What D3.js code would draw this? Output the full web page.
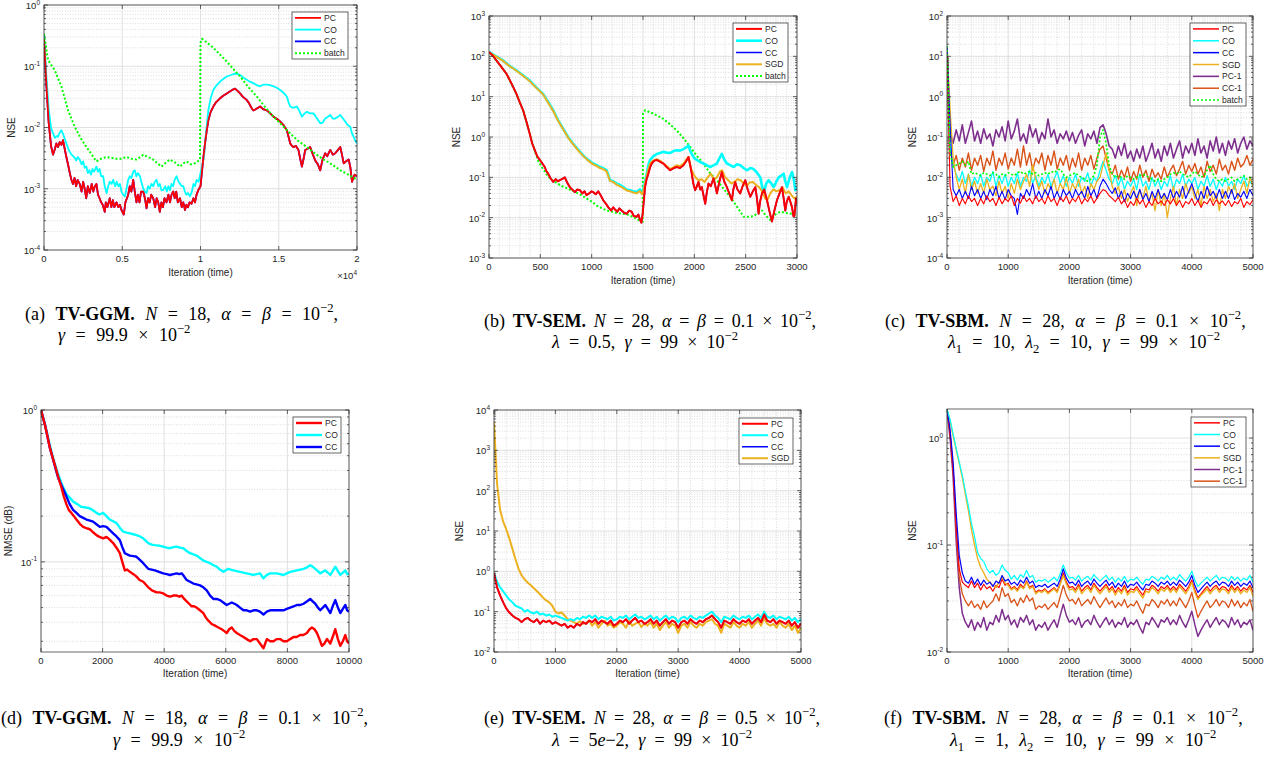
<!DOCTYPE html>
<meta charset="utf-8">
<style>
  body { margin: 0; background: #fff; }
  svg text { font-family: "Liberation Sans", Arial, sans-serif; fill: #262626; }
  svg text.cap { font-family: "Liberation Serif", "Times New Roman", serif; fill: #000; }
</style>
<body></body>
<script src="https://d3js.org/d3.v7.min.js"></script>
<script>

// ---------- (a) TV-GGM, iterations 0..20000, [iteration, NSE]
const ggmA_pc = [[0,0.29],[150,0.05],[300,0.012],[450,0.005],[576,0.0036],[700,0.0045],[790,0.0055],[900,0.0048],[1000,0.0058],[1110,0.0052],[1216,0.0062],[1320,0.0045],[1430,0.0033],[1550,0.0024],[1650,0.0018],[1750,0.0014],[1850,0.0012],[1950,0.0015],[2050,0.0011],[2150,0.0014],[2280,0.0012],[2400,0.0009],[2500,0.0013],[2600,0.001],[2700,0.0007],[2800,0.0011],[2920,0.00085],[3050,0.0012],[3150,0.0009],[3250,0.0011],[3350,0.0012],[3450,0.0008],[3550,0.0007],[3650,0.0006],[3750,0.00055],[3880,0.00042],[3950,0.0006],[4050,0.0005],[4200,0.0007],[4300,0.0005],[4400,0.00065],[4500,0.0005],[4630,0.0006],[4750,0.0005],[4850,0.00055],[4950,0.00045],[5100,0.00038],[5200,0.0006],[5300,0.0007],[5380,0.0008],[5480,0.0011],[5580,0.0009],[5700,0.0014],[5800,0.0009],[5910,0.0006],[6000,0.0008],[6100,0.0006],[6200,0.0009],[6340,0.0009],[6450,0.0007],[6550,0.00048],[6650,0.0007],[6750,0.0006],[6850,0.0008],[6980,0.0007],[7100,0.0005],[7200,0.0007],[7300,0.0006],[7400,0.00042],[7500,0.0006],[7600,0.0005],[7700,0.0007],[7830,0.0006],[7950,0.0008],[8050,0.0006],[8150,0.0008],[8260,0.0009],[8350,0.0007],[8450,0.0009],[8550,0.0006],[8690,0.0007],[8800,0.0005],[8900,0.0006],[9010,0.00045],[9100,0.00055],[9200,0.0005],[9300,0.0006],[9430,0.00057],[9550,0.0007],[9650,0.0006],[9750,0.0008],[9860,0.00095],[10000,0.0011],[10100,0.002],[10200,0.0035],[10290,0.0055],[10400,0.009],[10500,0.013],[10650,0.018],[10820,0.022],[11000,0.026],[11250,0.03],[11450,0.033],[11680,0.036],[11900,0.039],[12100,0.042],[12210,0.043],[12350,0.04],[12530,0.036],[12700,0.032],[12960,0.028],[13100,0.025],[13250,0.021],[13380,0.019],[13550,0.02],[13810,0.022],[14000,0.02],[14240,0.019],[14450,0.017],[14660,0.015],[14850,0.014],[15090,0.0125],[15300,0.011],[15520,0.009],[15630,0.007],[15730,0.0055],[15850,0.005],[15940,0.0048],[16100,0.005],[16260,0.0043],[16380,0.003],[16480,0.0023],[16600,0.0032],[16690,0.0043],[16850,0.0045],[17010,0.0048],[17150,0.0038],[17330,0.0029],[17500,0.0025],[17650,0.002],[17800,0.003],[17970,0.0038],[18100,0.0034],[18290,0.0043],[18450,0.0036],[18610,0.0038],[18750,0.0042],[18930,0.0048],[19050,0.0035],[19150,0.0026],[19300,0.0028],[19470,0.003],[19580,0.0022],[19680,0.0013],[19850,0.0017],[20000,0.0016]];
const ggmA_co = [[0,0.34],[150,0.07],[300,0.02],[450,0.01],[576,0.008],[700,0.0068],[800,0.0072],[900,0.0071],[1000,0.0082],[1110,0.009],[1220,0.0078],[1330,0.0065],[1430,0.0055],[1550,0.0045],[1650,0.004],[1760,0.0036],[1860,0.0034],[1960,0.0032],[2060,0.0029],[2160,0.0033],[2280,0.003],[2400,0.0025],[2500,0.0028],[2600,0.0022],[2710,0.0023],[2800,0.0018],[2900,0.002],[3000,0.0017],[3100,0.0021],[3200,0.0019],[3350,0.0023],[3450,0.0019],[3550,0.0021],[3650,0.0016],[3780,0.0016],[3880,0.0011],[4000,0.00085],[4100,0.0011],[4200,0.0013],[4320,0.0012],[4420,0.0014],[4550,0.0011],[4650,0.0013],[4750,0.0011],[4850,0.0012],[4950,0.0009],[5050,0.0008],[5170,0.00075],[5270,0.001],[5380,0.0014],[5480,0.0016],[5580,0.0015],[5700,0.0019],[5800,0.002],[5900,0.0016],[6000,0.0018],[6130,0.0016],[6250,0.0012],[6350,0.001],[6450,0.0009],[6550,0.00085],[6650,0.0011],[6750,0.001],[6870,0.0012],[6980,0.0011],[7080,0.0013],[7190,0.0014],[7300,0.0011],[7400,0.0012],[7500,0.00095],[7620,0.00095],[7750,0.0011],[7850,0.0009],[7950,0.0011],[8050,0.00095],[8150,0.0012],[8250,0.0011],[8350,0.0014],[8470,0.0016],[8600,0.0013],[8700,0.0012],[8800,0.0011],[8900,0.0011],[9000,0.0009],[9100,0.0008],[9200,0.00085],[9330,0.00075],[9450,0.0009],[9550,0.0012],[9650,0.0011],[9750,0.0014],[9880,0.0013],[10000,0.0018],[10120,0.0025],[10230,0.0034],[10350,0.008],[10500,0.019],[10650,0.03],[10820,0.041],[11000,0.048],[11250,0.056],[11450,0.062],[11680,0.068],[11950,0.072],[12210,0.076],[12350,0.075],[12530,0.072],[12750,0.065],[12960,0.06],[13150,0.056],[13380,0.053],[13600,0.049],[13810,0.047],[14000,0.05],[14240,0.05],[14450,0.049],[14660,0.047],[14850,0.045],[15090,0.041],[15300,0.037],[15520,0.032],[15620,0.026],[15730,0.022],[15900,0.021],[16160,0.022],[16300,0.019],[16480,0.015],[16650,0.017],[16800,0.018],[17000,0.017],[17220,0.017],[17450,0.014],[17650,0.0117],[17800,0.012],[17970,0.014],[18150,0.015],[18290,0.016],[18450,0.014],[18610,0.014],[18780,0.015],[18930,0.016],[19100,0.014],[19250,0.0125],[19400,0.011],[19570,0.0103],[19680,0.008],[19790,0.007],[19900,0.006],[20000,0.0055]];
const ggmA_cc = ggmA_pc; // CC lies under PC in this panel
const ggmA_batch = [[0,0.34],[256,0.126],[680,0.087],[1110,0.047],[1540,0.019],[1960,0.0103],[2330,0.0068],[2710,0.0048],[3050,0.0036],[3350,0.0028],[3650,0.0031],[4000,0.0033],[4300,0.0032],[4630,0.0031],[4950,0.0031],[5270,0.0033],[5600,0.0031],[5910,0.003],[6150,0.0033],[6340,0.0036],[6650,0.0033],[6980,0.003],[7250,0.0026],[7510,0.0023],[7800,0.0027],[8050,0.003],[8350,0.0027],[8690,0.0023],[8900,0.0026],[9110,0.0028],[9400,0.0025],[9650,0.0026],[9970,0.003],[10000,0.24],[10100,0.28],[10450,0.24],[10820,0.2],[11250,0.155],[11680,0.119],[12100,0.09],[12530,0.068],[13050,0.046],[13600,0.032],[14100,0.022],[14660,0.015],[15200,0.011],[15730,0.008],[16250,0.006],[16800,0.0048],[17350,0.0037],[17870,0.003],[18400,0.0025],[18930,0.002],[19450,0.0017],[20000,0.0014]];

// ---------- (b) TV-SEM, iterations 0..3000
const semB_pc = [[0,128],[36,105],[72,79],[120,55],[170,37],[220,21],[267,11.7],[300,7.2],[332,4.6],[365,2.4],[397,1.2],[420,0.7],[446,0.47],[470,0.33],[495,0.27],[520,0.22],[543,0.18],[560,0.14],[576,0.123],[600,0.095],[625,0.077],[650,0.09],[670,0.08],[690,0.085],[710,0.09],[739,0.1],[760,0.075],[788,0.057],[810,0.05],[836,0.043],[860,0.05],[885,0.048],[910,0.04],[930,0.045],[950,0.036],[975,0.04],[1000,0.045],[1015,0.043],[1040,0.038],[1064,0.045],[1090,0.035],[1113,0.027],[1140,0.022],[1162,0.018],[1190,0.015],[1210,0.018],[1227,0.016],[1250,0.014],[1270,0.017],[1292,0.015],[1320,0.013],[1341,0.0125],[1365,0.015],[1390,0.014],[1410,0.011],[1438,0.0105],[1455,0.012],[1471,0.0088],[1485,0.0075],[1497,0.0125],[1510,0.03],[1520,0.057],[1535,0.09],[1552,0.123],[1570,0.18],[1585,0.22],[1610,0.26],[1634,0.27],[1660,0.25],[1699,0.22],[1730,0.18],[1764,0.15],[1800,0.17],[1829,0.18],[1860,0.17],[1894,0.2],[1920,0.25],[1943,0.32],[1960,0.2],[1975,0.123],[1990,0.07],[2008,0.048],[2025,0.06],[2040,0.077],[2057,0.05],[2073,0.057],[2090,0.035],[2106,0.022],[2120,0.04],[2138,0.07],[2160,0.06],[2187,0.095],[2205,0.06],[2220,0.04],[2245,0.08],[2268,0.135],[2290,0.08],[2317,0.057],[2340,0.04],[2366,0.027],[2380,0.05],[2398,0.077],[2420,0.05],[2447,0.04],[2470,0.06],[2496,0.085],[2520,0.05],[2545,0.033],[2570,0.045],[2594,0.057],[2610,0.03],[2626,0.0125],[2640,0.025],[2659,0.04],[2680,0.05],[2708,0.027],[2730,0.015],[2756,0.008],[2780,0.015],[2805,0.027],[2830,0.04],[2854,0.057],[2870,0.03],[2886,0.015],[2900,0.025],[2919,0.033],[2935,0.025],[2952,0.018],[2965,0.011],[2975,0.011],[2990,0.03],[3000,0.022]];
const semB_co = [[0,130],[70,100],[137,79],[200,58],[267,45],[330,34],[397,25],[460,17],[527,11.7],[575,7.5],[625,4.6],[670,2.7],[722,1.6],[770,1.0],[820,0.68],[870,0.48],[917,0.35],[965,0.27],[1015,0.22],[1050,0.2],[1080,0.18],[1110,0.17],[1145,0.15],[1160,0.12],[1178,0.085],[1210,0.08],[1243,0.07],[1275,0.065],[1308,0.057],[1340,0.05],[1373,0.048],[1405,0.045],[1438,0.043],[1470,0.05],[1490,0.04],[1503,0.052],[1520,0.08],[1536,0.123],[1552,0.2],[1569,0.27],[1600,0.33],[1634,0.38],[1665,0.4],[1699,0.43],[1730,0.41],[1764,0.4],[1800,0.45],[1829,0.47],[1860,0.46],[1894,0.5],[1920,0.55],[1943,0.62],[1960,0.45],[1975,0.38],[2000,0.3],[2024,0.27],[2055,0.24],[2089,0.22],[2120,0.2],[2154,0.18],[2190,0.2],[2220,0.22],[2245,0.3],[2268,0.38],[2290,0.28],[2317,0.22],[2350,0.2],[2382,0.18],[2415,0.21],[2447,0.2],[2480,0.17],[2512,0.15],[2545,0.17],[2577,0.16],[2610,0.13],[2642,0.1],[2660,0.06],[2675,0.04],[2700,0.07],[2724,0.085],[2750,0.07],[2773,0.057],[2800,0.08],[2822,0.1],[2845,0.11],[2870,0.123],[2886,0.08],[2903,0.057],[2930,0.1],[2952,0.135],[2968,0.09],[2984,0.048],[3000,0.057]];
const semB_cc = semB_pc; // CC lies under PC in this panel
const semB_sgd = [[0,125],[70,98],[137,77],[200,57],[267,44],[330,33],[397,24],[460,16.5],[527,11.3],[575,7.2],[625,4.4],[670,2.6],[722,1.55],[770,0.97],[820,0.66],[870,0.46],[917,0.34],[965,0.26],[1015,0.21],[1050,0.19],[1080,0.17],[1110,0.16],[1145,0.14],[1160,0.11],[1178,0.082],[1210,0.076],[1243,0.066],[1275,0.06],[1308,0.054],[1340,0.047],[1373,0.045],[1405,0.042],[1438,0.04],[1470,0.046],[1490,0.038],[1503,0.045],[1520,0.07],[1536,0.11],[1552,0.16],[1569,0.22],[1600,0.26],[1634,0.28],[1665,0.26],[1699,0.22],[1730,0.19],[1764,0.16],[1800,0.18],[1829,0.2],[1860,0.19],[1894,0.22],[1920,0.27],[1943,0.32],[1965,0.17],[1990,0.123],[2010,0.1],[2040,0.085],[2070,0.09],[2100,0.077],[2130,0.1],[2160,0.123],[2190,0.09],[2220,0.1],[2250,0.14],[2270,0.15],[2300,0.1],[2330,0.085],[2360,0.07],[2390,0.077],[2420,0.09],[2450,0.085],[2480,0.07],[2510,0.062],[2540,0.075],[2570,0.077],[2600,0.065],[2630,0.057],[2660,0.045],[2690,0.03],[2710,0.027],[2740,0.04],[2770,0.05],[2800,0.045],[2830,0.048],[2860,0.055],[2890,0.04],[2920,0.045],[2950,0.035],[2975,0.03],[3000,0.033]];
const semB_batch = [[0,128],[72,79],[170,37],[267,11.7],[332,4.6],[397,1.2],[446,0.45],[480,0.25],[520,0.17],[560,0.12],[600,0.09],[650,0.075],[700,0.062],[750,0.055],[800,0.048],[850,0.042],[900,0.036],[950,0.03],[1000,0.025],[1050,0.02],[1100,0.017],[1150,0.015],[1200,0.014],[1250,0.013],[1300,0.0125],[1350,0.012],[1400,0.0105],[1450,0.009],[1497,0.008],[1500,3.8],[1520,4.6],[1600,3.8],[1699,2.8],[1760,2.1],[1829,1.45],[1900,0.9],[1959,0.57],[2020,0.35],[2089,0.22],[2150,0.13],[2220,0.085],[2290,0.05],[2350,0.033],[2420,0.018],[2480,0.0105],[2530,0.0105],[2577,0.011],[2620,0.013],[2660,0.015],[2700,0.011],[2740,0.0088],[2790,0.012],[2838,0.014],[2900,0.013],[2950,0.0125],[3000,0.011]];

// ---------- (c) TV-SBM, one value every 50 iterations, 0..5000
const sbmC_pc = [10, 0.006,0.0025,0.0035,0.002,0.003,0.0022,0.0035,0.0025,0.003,0.002, 0.003,0.0022,0.0035,0.0025,0.003,0.002,0.0032,0.0022,0.003,0.0025, 0.0035,0.002,0.003,0.0023,0.0035,0.0025,0.003,0.0022,0.0035,0.0025, 0.003,0.0022,0.0035,0.0025,0.003,0.002,0.0032,0.0025,0.0035,0.0022, 0.003,0.0025,0.0035,0.0022,0.003,0.0025,0.0035,0.0023,0.003,0.004, 0.005,0.0045,0.0035,0.003,0.0025,0.0032,0.0022,0.0028,0.0018,0.0025, 0.002,0.003,0.0022,0.0028,0.0018,0.0025,0.002,0.003,0.0022,0.0026, 0.002,0.0028,0.0022,0.003,0.002,0.0027,0.0018,0.0025,0.0022,0.003, 0.002,0.0027,0.0018,0.0025,0.0022,0.003,0.002,0.0028,0.0022,0.0026, 0.002,0.0027,0.0019,0.0025,0.0022,0.003,0.0018,0.0025,0.0021,0.0028];
const sbmC_co = [18, 0.06,0.02,0.012,0.008,0.014,0.007,0.012,0.006,0.01,0.007, 0.012,0.006,0.01,0.008,0.014,0.006,0.011,0.007,0.012,0.006, 0.01,0.007,0.013,0.006,0.01,0.008,0.015,0.007,0.011,0.006, 0.01,0.007,0.012,0.006,0.009,0.014,0.007,0.011,0.006,0.01, 0.007,0.012,0.006,0.01,0.008,0.013,0.006,0.01,0.008,0.015, 0.025,0.015,0.009,0.007,0.011,0.006,0.01,0.005,0.008,0.006, 0.009,0.005,0.012,0.006,0.008,0.005,0.01,0.006,0.009,0.005, 0.008,0.006,0.011,0.005,0.009,0.007,0.012,0.006,0.009,0.007, 0.01,0.005,0.008,0.006,0.011,0.006,0.009,0.005,0.008,0.006, 0.01,0.006,0.008,0.005,0.009,0.007,0.011,0.006,0.008,0.006];
const sbmC_cc = [18, 0.2,0.005,0.0035,0.005,0.003,0.0045,0.003,0.006,0.0035,0.005, 0.003,0.0045,0.0028,0.005,0.0035,0.006,0.003,0.0045,0.0028,0.005, 0.0035,0.003,0.0012,0.004,0.003,0.005,0.0035,0.007,0.003,0.0045, 0.003,0.005,0.0035,0.006,0.003,0.0045,0.0028,0.005,0.0035,0.0045, 0.003,0.005,0.0035,0.0045,0.003,0.006,0.0035,0.005,0.003,0.006, 0.009,0.007,0.005,0.004,0.0055,0.003,0.0045,0.0025,0.004,0.003, 0.0045,0.003,0.005,0.0028,0.004,0.0025,0.0045,0.003,0.005,0.003, 0.004,0.0028,0.005,0.003,0.0045,0.0032,0.006,0.003,0.0045,0.007, 0.004,0.0025,0.0045,0.003,0.006,0.0035,0.0045,0.003,0.005,0.003, 0.0045,0.003,0.005,0.0028,0.004,0.0032,0.0045,0.003,0.005,0.0035];
const sbmC_sgd = [18, 0.5,0.03,0.01,0.005,0.009,0.004,0.012,0.005,0.008,0.004, 0.007,0.004,0.009,0.005,0.006,0.0035,0.008,0.004,0.006,0.003, 0.007,0.004,0.009,0.005,0.008,0.012,0.006,0.02,0.009,0.005, 0.008,0.004,0.007,0.005,0.009,0.004,0.007,0.005,0.01,0.004, 0.007,0.005,0.009,0.004,0.006,0.003,0.007,0.005,0.008,0.01, 0.02,0.04,0.015,0.006,0.004,0.006,0.003,0.005,0.0025,0.004, 0.006,0.002,0.005,0.003,0.006,0.0025,0.004,0.0015,0.005,0.002, 0.004,0.001,0.003,0.006,0.002,0.005,0.003,0.007,0.004,0.006, 0.003,0.005,0.002,0.006,0.003,0.005,0.0025,0.004,0.0015,0.005, 0.003,0.006,0.004,0.007,0.003,0.005,0.008,0.004,0.01,0.006];
const sbmC_pc1 = [18, 0.12,0.07,0.15,0.08,0.2,0.07,0.13,0.25,0.08,0.14, 0.07,0.16,0.09,0.12,0.06,0.15,0.1,0.18,0.08,0.25, 0.09,0.14,0.28,0.08,0.12,0.07,0.2,0.1,0.16,0.07, 0.13,0.09,0.28,0.1,0.15,0.07,0.12,0.09,0.14,0.08, 0.13,0.07,0.11,0.15,0.06,0.12,0.09,0.14,0.07,0.17, 0.2,0.12,0.06,0.05,0.03,0.06,0.035,0.07,0.03,0.045, 0.025,0.05,0.03,0.06,0.025,0.04,0.07,0.03,0.05,0.025, 0.06,0.035,0.07,0.03,0.05,0.08,0.03,0.06,0.04,0.07, 0.035,0.09,0.04,0.06,0.03,0.08,0.045,0.1,0.04,0.07, 0.035,0.08,0.05,0.09,0.04,0.07,0.1,0.05,0.08,0.06];
const sbmC_cc1 = [18, 0.05,0.02,0.035,0.015,0.03,0.018,0.04,0.015,0.03,0.02, 0.035,0.014,0.03,0.02,0.045,0.015,0.03,0.02,0.04,0.016, 0.03,0.02,0.05,0.018,0.06,0.02,0.04,0.015,0.03,0.022, 0.04,0.015,0.035,0.02,0.045,0.016,0.03,0.02,0.035,0.015, 0.03,0.018,0.04,0.015,0.03,0.02,0.035,0.016,0.03,0.05, 0.06,0.03,0.015,0.012,0.02,0.009,0.015,0.01,0.018,0.008, 0.014,0.009,0.02,0.01,0.015,0.008,0.016,0.01,0.013,0.009, 0.018,0.01,0.015,0.02,0.011,0.016,0.025,0.012,0.02,0.014, 0.022,0.012,0.018,0.01,0.025,0.014,0.02,0.012,0.028,0.015, 0.02,0.012,0.025,0.015,0.03,0.018,0.022,0.035,0.02,0.028];
const sbmC_batch = [18, 0.04,0.018,0.02,0.022,0.025,0.02,0.025,0.012,0.013,0.012, 0.011,0.013,0.012,0.011,0.013,0.012,0.01,0.012,0.011,0.013, 0.012,0.011,0.013,0.014,0.012,0.013,0.014,0.012,0.013,0.011, 0.012,0.013,0.012,0.014,0.013,0.015,0.016,0.012,0.01,0.011, 0.012,0.013,0.011,0.01,0.009,0.008,0.009,0.011,0.02,0.1, 0.15,0.07,0.02,0.012,0.01,0.011,0.01,0.009,0.011,0.01, 0.009,0.01,0.011,0.012,0.011,0.01,0.009,0.008,0.009,0.008, 0.009,0.01,0.012,0.013,0.012,0.014,0.012,0.011,0.01,0.012, 0.014,0.012,0.01,0.011,0.015,0.02,0.012,0.009,0.008,0.009, 0.008,0.009,0.01,0.008,0.009,0.01,0.011,0.009,0.01,0.009];

// ---------- (d) TV-GGM, iterations 0..10000, [iteration, NMSE]
const ggmD_pc = [[0,1.0],[140,0.78],[282,0.57],[400,0.47],[499,0.40],[580,0.35],[662,0.31],[740,0.27],[824,0.24],[900,0.22],[987,0.21],[1070,0.2],[1150,0.19],[1260,0.178],[1367,0.17],[1470,0.167],[1584,0.164],[1700,0.156],[1800,0.15],[1900,0.146],[2017,0.143],[2126,0.146],[2230,0.14],[2343,0.133],[2450,0.124],[2560,0.114],[2640,0.1],[2722,0.088],[2800,0.089],[2885,0.086],[3000,0.083],[3102,0.08],[3200,0.076],[3319,0.074],[3400,0.071],[3482,0.068],[3600,0.065],[3753,0.063],[3850,0.063],[3970,0.062],[4080,0.06],[4187,0.059],[4300,0.06],[4403,0.06],[4500,0.059],[4566,0.06],[4650,0.057],[4729,0.055],[4810,0.053],[4892,0.051],[4970,0.051],[5054,0.05],[5160,0.048],[5271,0.046],[5350,0.043],[5434,0.041],[5540,0.039],[5651,0.038],[5760,0.037],[5868,0.036],[5950,0.035],[6030,0.034],[6110,0.036],[6193,0.037],[6280,0.035],[6356,0.034],[6460,0.033],[6573,0.032],[6680,0.031],[6790,0.03],[6900,0.031],[7007,0.031],[7110,0.029],[7223,0.027],[7280,0.029],[7332,0.031],[7440,0.03],[7549,0.03],[7650,0.031],[7766,0.031],[7870,0.03],[7983,0.03],[8090,0.031],[8200,0.032],[8300,0.032],[8416,0.033],[8520,0.033],[8633,0.034],[8720,0.036],[8796,0.037],[8880,0.036],[8959,0.034],[9040,0.031],[9121,0.028],[9200,0.029],[9284,0.031],[9340,0.03],[9393,0.029],[9470,0.032],[9555,0.036],[9640,0.031],[9718,0.028],[9800,0.03],[9881,0.033],[9940,0.03],[10000,0.029]];
const ggmD_co = [[0,1.0],[140,0.79],[282,0.59],[420,0.46],[553,0.38],[690,0.32],[824,0.28],[930,0.265],[1041,0.25],[1180,0.24],[1312,0.23],[1450,0.228],[1584,0.225],[1700,0.218],[1800,0.21],[1900,0.205],[2017,0.21],[2126,0.2],[2234,0.19],[2343,0.185],[2451,0.18],[2560,0.168],[2668,0.158],[2780,0.156],[2885,0.154],[3000,0.152],[3102,0.15],[3210,0.147],[3319,0.143],[3400,0.138],[3482,0.133],[3590,0.13],[3698,0.129],[3830,0.128],[3970,0.126],[4080,0.124],[4187,0.123],[4300,0.125],[4403,0.126],[4510,0.124],[4620,0.123],[4730,0.118],[4837,0.114],[4950,0.112],[5054,0.11],[5160,0.106],[5271,0.102],[5380,0.1],[5488,0.098],[5600,0.095],[5705,0.093],[5810,0.089],[5922,0.086],[6000,0.088],[6085,0.09],[6160,0.089],[6247,0.088],[6350,0.087],[6464,0.086],[6570,0.085],[6681,0.084],[6790,0.083],[6898,0.082],[7000,0.083],[7115,0.084],[7180,0.08],[7223,0.078],[7330,0.082],[7440,0.084],[7550,0.084],[7657,0.084],[7760,0.083],[7874,0.082],[7980,0.084],[8091,0.086],[8200,0.087],[8308,0.088],[8420,0.089],[8525,0.09],[8640,0.092],[8742,0.095],[8820,0.093],[8904,0.09],[8990,0.087],[9067,0.084],[9150,0.086],[9230,0.088],[9310,0.085],[9393,0.082],[9470,0.087],[9555,0.093],[9640,0.087],[9718,0.082],[9800,0.085],[9881,0.088],[9940,0.083],[10000,0.084]];
const ggmD_cc = [[0,1.0],[140,0.78],[282,0.57],[420,0.45],[553,0.36],[690,0.31],[824,0.27],[930,0.24],[1041,0.22],[1150,0.21],[1258,0.2],[1370,0.195],[1475,0.19],[1590,0.187],[1692,0.184],[1800,0.177],[1909,0.17],[2017,0.172],[2126,0.17],[2234,0.162],[2343,0.154],[2451,0.147],[2560,0.139],[2640,0.125],[2722,0.114],[2800,0.112],[2885,0.11],[3000,0.109],[3102,0.108],[3210,0.103],[3319,0.098],[3400,0.094],[3482,0.09],[3590,0.089],[3698,0.088],[3830,0.086],[3970,0.084],[4080,0.083],[4187,0.082],[4300,0.083],[4403,0.084],[4490,0.083],[4566,0.084],[4650,0.08],[4729,0.076],[4840,0.074],[4946,0.072],[5050,0.071],[5163,0.07],[5270,0.068],[5380,0.065],[5490,0.06],[5597,0.057],[5700,0.057],[5814,0.056],[5920,0.054],[6030,0.052],[6110,0.053],[6193,0.054],[6280,0.053],[6356,0.052],[6460,0.05],[6573,0.048],[6680,0.048],[6790,0.047],[6900,0.048],[7007,0.048],[7110,0.047],[7223,0.045],[7330,0.047],[7440,0.048],[7550,0.048],[7657,0.048],[7760,0.048],[7874,0.048],[7980,0.049],[8091,0.05],[8200,0.051],[8308,0.052],[8420,0.052],[8525,0.053],[8640,0.055],[8742,0.057],[8820,0.055],[8904,0.053],[8990,0.05],[9067,0.048],[9150,0.05],[9230,0.052],[9310,0.049],[9393,0.046],[9470,0.051],[9555,0.056],[9640,0.05],[9718,0.046],[9800,0.049],[9881,0.052],[9940,0.048],[10000,0.047]];

// ---------- (e) TV-SEM, one value every 50 iterations, 0..5000
const semE_pc = [0.9, 0.4,0.25,0.17,0.12,0.095,0.08,0.07,0.065,0.055,0.065, 0.07,0.06,0.055,0.065,0.05,0.06,0.055,0.06,0.05,0.055, 0.05,0.045,0.05,0.04,0.045,0.04,0.05,0.045,0.055,0.05, 0.06,0.055,0.065,0.05,0.06,0.055,0.05,0.06,0.045,0.05, 0.06,0.055,0.065,0.05,0.06,0.07,0.055,0.06,0.05,0.055, 0.065,0.05,0.06,0.045,0.055,0.065,0.05,0.06,0.055,0.04, 0.055,0.06,0.05,0.065,0.055,0.05,0.06,0.055,0.065,0.07, 0.08,0.065,0.055,0.04,0.06,0.055,0.05,0.065,0.055,0.05, 0.06,0.055,0.065,0.05,0.06,0.07,0.055,0.085,0.06,0.055, 0.065,0.05,0.06,0.055,0.05,0.06,0.045,0.055,0.04,0.05];
const semE_co = [0.9, 0.55,0.4,0.32,0.25,0.2,0.17,0.14,0.13,0.12,0.1, 0.11,0.095,0.09,0.1,0.085,0.09,0.08,0.085,0.075,0.08, 0.075,0.07,0.065,0.06,0.065,0.06,0.07,0.065,0.075,0.07, 0.08,0.07,0.08,0.065,0.075,0.07,0.065,0.075,0.06,0.065, 0.075,0.07,0.08,0.065,0.075,0.085,0.07,0.075,0.065,0.07, 0.08,0.065,0.075,0.06,0.07,0.08,0.065,0.075,0.07,0.055, 0.07,0.075,0.065,0.08,0.07,0.065,0.075,0.07,0.08,0.09, 0.1,0.08,0.07,0.055,0.075,0.07,0.065,0.08,0.07,0.065, 0.075,0.07,0.08,0.065,0.075,0.085,0.07,0.1,0.075,0.07, 0.08,0.065,0.075,0.07,0.065,0.075,0.06,0.07,0.055,0.065];
const semE_cc = semE_pc; // CC lies under PC in this panel
const semE_sgd = [5000, 150,33,17,11,6.5,3.6,2.0,1.15,0.8,0.63, 0.52,0.45,0.38,0.32,0.27,0.22,0.19,0.17,0.14,0.1, 0.09,0.095,0.08,0.065,0.06,0.055,0.05,0.058,0.05,0.052, 0.06,0.045,0.055,0.04,0.05,0.06,0.045,0.05,0.04,0.045, 0.055,0.05,0.04,0.06,0.045,0.05,0.055,0.042,0.05,0.045, 0.055,0.04,0.05,0.035,0.045,0.055,0.04,0.05,0.045,0.03, 0.045,0.05,0.04,0.055,0.045,0.04,0.05,0.045,0.055,0.06, 0.065,0.05,0.045,0.03,0.05,0.045,0.04,0.055,0.045,0.04, 0.05,0.045,0.055,0.04,0.05,0.06,0.045,0.07,0.05,0.045, 0.05,0.04,0.055,0.045,0.04,0.05,0.035,0.045,0.03,0.04];

// ---------- (f) TV-SBM, one value every 50 iterations, 0..5000
const sbmF_pc = [1.85, 1.1,0.5,0.15,0.06,0.045,0.042,0.04,0.046,0.04,0.044, 0.038,0.043,0.039,0.041,0.037,0.042,0.04,0.048,0.042,0.044, 0.039,0.041,0.038,0.043,0.04,0.046,0.04,0.042,0.036,0.038, 0.037,0.039,0.036,0.038,0.04,0.037,0.044,0.055,0.045,0.04, 0.041,0.038,0.043,0.037,0.04,0.042,0.038,0.044,0.04,0.037, 0.04,0.043,0.038,0.041,0.036,0.04,0.037,0.042,0.036,0.039, 0.038,0.041,0.037,0.034,0.039,0.038,0.042,0.04,0.037,0.041, 0.039,0.042,0.038,0.041,0.038,0.043,0.04,0.037,0.041,0.047, 0.038,0.032,0.035,0.038,0.041,0.037,0.04,0.042,0.038,0.041, 0.04,0.037,0.042,0.038,0.041,0.037,0.04,0.038,0.042,0.036];
const sbmF_co = [1.85, 1.5,1.1,0.8,0.6,0.45,0.32,0.23,0.16,0.12,0.085, 0.075,0.07,0.06,0.055,0.058,0.052,0.055,0.065,0.058,0.055, 0.048,0.052,0.047,0.053,0.05,0.058,0.05,0.052,0.045,0.047, 0.046,0.048,0.045,0.047,0.05,0.046,0.054,0.065,0.055,0.049, 0.05,0.047,0.052,0.046,0.049,0.051,0.047,0.053,0.049,0.046, 0.049,0.052,0.047,0.05,0.045,0.049,0.046,0.051,0.045,0.048, 0.047,0.05,0.046,0.043,0.048,0.047,0.051,0.049,0.046,0.05, 0.048,0.052,0.047,0.05,0.047,0.053,0.049,0.046,0.05,0.057, 0.047,0.041,0.044,0.047,0.05,0.046,0.049,0.052,0.047,0.05, 0.049,0.046,0.051,0.047,0.05,0.046,0.049,0.047,0.052,0.045];
const sbmF_cc = [1.85, 1.2,0.6,0.2,0.08,0.055,0.046,0.044,0.05,0.043,0.048, 0.042,0.047,0.043,0.045,0.041,0.046,0.044,0.052,0.046,0.048, 0.043,0.045,0.042,0.047,0.044,0.05,0.044,0.046,0.04,0.042, 0.041,0.043,0.04,0.042,0.044,0.041,0.048,0.06,0.049,0.044, 0.045,0.042,0.047,0.041,0.044,0.046,0.042,0.048,0.044,0.041, 0.044,0.047,0.042,0.045,0.04,0.044,0.041,0.046,0.04,0.043, 0.042,0.045,0.041,0.038,0.043,0.042,0.046,0.044,0.041,0.045, 0.043,0.046,0.042,0.045,0.042,0.047,0.044,0.041,0.045,0.052, 0.042,0.036,0.039,0.042,0.045,0.041,0.044,0.046,0.042,0.045, 0.044,0.041,0.046,0.042,0.045,0.041,0.044,0.042,0.046,0.04];
const sbmF_sgd = [1.85, 1.45,1.05,0.78,0.58,0.43,0.3,0.21,0.14,0.1,0.075, 0.062,0.055,0.048,0.045,0.042,0.04,0.045,0.05,0.044,0.042, 0.038,0.04,0.037,0.041,0.039,0.045,0.039,0.041,0.035,0.037, 0.036,0.038,0.035,0.037,0.039,0.036,0.043,0.052,0.043,0.038, 0.039,0.036,0.041,0.035,0.038,0.04,0.036,0.042,0.038,0.035, 0.038,0.041,0.036,0.039,0.034,0.038,0.035,0.04,0.034,0.037, 0.036,0.039,0.035,0.032,0.037,0.036,0.04,0.038,0.035,0.039, 0.037,0.04,0.036,0.039,0.036,0.041,0.038,0.035,0.039,0.045, 0.036,0.031,0.034,0.036,0.039,0.035,0.038,0.04,0.036,0.039, 0.038,0.035,0.04,0.036,0.039,0.035,0.038,0.036,0.04,0.033];
const sbmF_pc1 = [1.85, 1.0,0.44,0.11,0.04,0.023,0.019,0.017,0.02,0.016,0.019, 0.017,0.021,0.016,0.019,0.018,0.022,0.019,0.025,0.02,0.022, 0.018,0.02,0.017,0.021,0.019,0.022,0.018,0.02,0.016,0.018, 0.017,0.019,0.016,0.018,0.02,0.017,0.022,0.028,0.022,0.019, 0.02,0.018,0.021,0.017,0.019,0.02,0.018,0.022,0.019,0.017, 0.019,0.021,0.018,0.02,0.017,0.019,0.018,0.021,0.017,0.019, 0.018,0.02,0.017,0.015,0.019,0.018,0.021,0.019,0.017,0.02, 0.019,0.021,0.018,0.02,0.018,0.022,0.019,0.017,0.02,0.024, 0.018,0.014,0.016,0.018,0.02,0.017,0.019,0.021,0.018,0.02, 0.019,0.017,0.021,0.018,0.02,0.017,0.019,0.018,0.02,0.016];
const sbmF_cc1 = [1.85, 1.1,0.5,0.14,0.05,0.035,0.03,0.027,0.03,0.026,0.028, 0.025,0.03,0.026,0.028,0.03,0.035,0.03,0.04,0.033,0.035, 0.029,0.031,0.027,0.032,0.029,0.034,0.03,0.032,0.025,0.027, 0.026,0.028,0.025,0.027,0.029,0.026,0.033,0.042,0.034,0.03, 0.031,0.028,0.032,0.027,0.029,0.031,0.028,0.033,0.029,0.026, 0.029,0.032,0.028,0.03,0.026,0.029,0.027,0.031,0.026,0.028, 0.027,0.03,0.026,0.023,0.028,0.027,0.031,0.029,0.026,0.03, 0.028,0.031,0.027,0.03,0.027,0.032,0.029,0.026,0.03,0.036, 0.027,0.021,0.024,0.027,0.03,0.026,0.028,0.031,0.027,0.03, 0.029,0.026,0.031,0.027,0.03,0.026,0.029,0.027,0.031,0.024];

// ---------- tick values / labels
const xTicksA = [0, 5000, 10000, 15000, 20000];
const xTickLabelsA = ["0", "0.5", "1", "1.5", "2"];
const xTicksB = [0, 500, 1000, 1500, 2000, 2500, 3000];
const xTicks5k = [0, 1000, 2000, 3000, 4000, 5000];
const xTicksD = [0, 2000, 4000, 6000, 8000, 10000];

const names = { pc: "PC", co: "CO", cc: "CC", sgd: "SGD", pc1: "PC-1", cc1: "CC-1", batch: "batch" };
const colors = { pc: "#ff0000", co: "#00ffff", cc: "#0000ff", sgd: "#edb120", pc1: "#7e2f8e", cc1: "#d95319", batch: "#00ff00" };

// build [x, y] pairs for the series that were read at a fixed step
function onGrid(values, xMax) {
  return values.map((v, i) => [i * xMax / (values.length - 1), v]);
}

const panels = [
  { left: 44, right: 357, top: 5, bottom: 250, xMax: 20000, xTicks: xTicksA, xLabels: xTickLabelsA, xExp: true,
    yDom: [1e-4, 1], yLabel: "NSE", yLabelX: 15, xLabelY: 276,
    legend: { x: 292, y: 12, w: 56, h: 47 },
    series: { pc: ggmA_pc, co: ggmA_co, cc: ggmA_cc, batch: ggmA_batch },
    order: ["cc", "co", "pc", "batch"], width: { pc: 1.8, co: 1.8, cc: 1.8, batch: 2 } },
  { left: 489, right: 797, top: 16, bottom: 258, xMax: 3000, xTicks: xTicksB, xMinor: 100,
    yDom: [1e-3, 1e3], yLabel: "NSE", yLabelX: 460, xLabelY: 284,
    legend: { x: 733, y: 23, w: 55, h: 59 },
    series: { pc: semB_pc, co: semB_co, cc: semB_cc, sgd: semB_sgd, batch: semB_batch },
    order: ["cc", "batch", "co", "sgd", "pc"], width: { pc: 2, co: 2.6, cc: 1.5, sgd: 2, batch: 2 } },
  { left: 947, right: 1253, top: 16, bottom: 258, xMax: 5000, xTicks: xTicks5k, xMinor: 200,
    yDom: [1e-4, 1e2], yLabel: "NSE", yLabelX: 916, xLabelY: 284,
    legend: { x: 1190, y: 23, w: 56, h: 83 },
    series: { pc: onGrid(sbmC_pc, 5000), co: onGrid(sbmC_co, 5000), cc: onGrid(sbmC_cc, 5000), sgd: onGrid(sbmC_sgd, 5000),
              pc1: onGrid(sbmC_pc1, 5000), cc1: onGrid(sbmC_cc1, 5000), batch: onGrid(sbmC_batch, 5000) },
    order: ["pc1", "cc1", "co", "sgd", "cc", "pc", "batch"],
    width: { pc: 1.1, co: 1.3, cc: 1.1, sgd: 1.3, pc1: 1.6, cc1: 1.4, batch: 1.6 } },
  { left: 41, right: 349, top: 410, bottom: 652, xMax: 10000, xTicks: xTicksD,
    yDom: [0.0255, 1], yLabel: "NMSE (dB)", yLabelX: 12, xLabelY: 677,
    legend: { x: 293, y: 417, w: 48, h: 36 },
    series: { pc: ggmD_pc, co: ggmD_co, cc: ggmD_cc },
    order: ["co", "cc", "pc"], width: { pc: 2.4, co: 2.4, cc: 2.4 } },
  { left: 494, right: 801, top: 410, bottom: 652, xMax: 5000, xTicks: xTicks5k, xMinor: 200,
    yDom: [1e-2, 1e4], yLabel: "NSE", yLabelX: 463, xLabelY: 677,
    legend: { x: 739, y: 418, w: 54, h: 46 },
    series: { pc: onGrid(semE_pc, 5000), co: onGrid(semE_co, 5000), cc: onGrid(semE_cc, 5000), sgd: onGrid(semE_sgd, 5000) },
    order: ["sgd", "co", "cc", "pc"], width: { pc: 2, co: 2, cc: 1.5, sgd: 2 } },
  { left: 947, right: 1253, top: 409, bottom: 652, xMax: 5000, xTicks: xTicks5k,
    yDom: [0.01, 1.87], yLabel: "NSE", yLabelX: 916, xLabelY: 677,
    legend: { x: 1191, y: 417, w: 55, h: 70 },
    series: { pc: onGrid(sbmF_pc, 5000), co: onGrid(sbmF_co, 5000), cc: onGrid(sbmF_cc, 5000), sgd: onGrid(sbmF_sgd, 5000),
              pc1: onGrid(sbmF_pc1, 5000), cc1: onGrid(sbmF_cc1, 5000) },
    order: ["pc1", "cc1", "pc", "sgd", "cc", "co"],
    width: { pc: 1.2, co: 1.2, cc: 1.2, sgd: 1.4, pc1: 1.5, cc1: 1.3 } }
];

// sub-figure captions: [text, kind]  kind: r roman, b bold, i italic, sup, sub
const captions = [
  { x: 25, y: 320, w: 320, parts: [["(a) ", "r"], ["TV-GGM.", "b"], [" ", "r"], ["N", "i"], [" = 18, ", "r"], ["α", "i"], [" = ", "r"], ["β", "i"], [" = 10", "r"], ["−2", "sup"], [",", "r"]] },
  { x: 58, y: 341, w: 144, parts: [["γ", "i"], [" = 99.9 × 10", "r"], ["−2", "sup"]] },
  { x: 484, y: 327, w: 332, parts: [["(b) ", "r"], ["TV-SEM.", "b"], [" ", "r"], ["N", "i"], [" = 28, ", "r"], ["α", "i"], [" = ", "r"], ["β", "i"], [" = 0.1 × 10", "r"], ["−2", "sup"], [",", "r"]] },
  { x: 552, y: 348, w: 186, parts: [["λ", "i"], [" = 0.5, ", "r"], ["γ", "i"], [" = 99 × 10", "r"], ["−2", "sup"]] },
  { x: 885, y: 327, w: 382, parts: [["(c) ", "r"], ["TV-SBM.", "b"], [" ", "r"], ["N", "i"], [" = 28, ", "r"], ["α", "i"], [" = ", "r"], ["β", "i"], [" = 0.1 × 10", "r"], ["−2", "sup"], [",", "r"]] },
  { x: 948, y: 348, w: 272, parts: [["λ", "i"], ["1", "sub"], [" = 10, ", "r"], ["λ", "i"], ["2", "sub"], [" = 10, ", "r"], ["γ", "i"], [" = 99 × 10", "r"], ["−2", "sup"]] },
  { x: 1, y: 724, w: 367, parts: [["(d) ", "r"], ["TV-GGM.", "b"], [" ", "r"], ["N", "i"], [" = 18, ", "r"], ["α", "i"], [" = ", "r"], ["β", "i"], [" = 0.1 × 10", "r"], ["−2", "sup"], [",", "r"]] },
  { x: 113, y: 746, w: 142, parts: [["γ", "i"], [" = 99.9 × 10", "r"], ["−2", "sup"]] },
  { x: 484, y: 724, w: 336, parts: [["(e) ", "r"], ["TV-SEM.", "b"], [" ", "r"], ["N", "i"], [" = 28, ", "r"], ["α", "i"], [" = ", "r"], ["β", "i"], [" = 0.5 × 10", "r"], ["−2", "sup"], [",", "r"]] },
  { x: 552, y: 746, w: 200, parts: [["λ", "i"], [" = 5", "r"], ["e", "i"], ["−2, ", "r"], ["γ", "i"], [" = 99 × 10", "r"], ["−2", "sup"]] },
  { x: 884, y: 724, w: 392, parts: [["(f) ", "r"], ["TV-SBM.", "b"], [" ", "r"], ["N", "i"], [" = 28, ", "r"], ["α", "i"], [" = ", "r"], ["β", "i"], [" = 0.1 × 10", "r"], ["−2", "sup"], [",", "r"]] },
  { x: 950, y: 746, w: 276, parts: [["λ", "i"], ["1", "sub"], [" = 1, ", "r"], ["λ", "i"], ["2", "sub"], [" = 10, ", "r"], ["γ", "i"], [" = 99 × 10", "r"], ["−2", "sup"]] }
];

const svg = d3.select("body").append("svg")
    .attr("width", 1281)
    .attr("height", 757);

svg.append("rect").attr("width", 1281).attr("height", 757).attr("fill", "#fff");

panels.forEach((p, pi) => {
  const x = d3.scaleLinear().domain([0, p.xMax]).range([p.left, p.right]);
  const y = d3.scaleLog().domain(p.yDom).range([p.bottom, p.top]);
  const g = svg.append("g");

  const clipId = "clip" + pi;
  g.append("clipPath").attr("id", clipId)
    .append("rect")
      .attr("x", p.left).attr("y", p.top)
      .attr("width", p.right - p.left).attr("height", p.bottom - p.top);

  // decades and minor log values inside the domain
  const lo = Math.floor(Math.log10(p.yDom[0])), hi = Math.ceil(Math.log10(p.yDom[1]));
  const majorY = [], minorY = [];
  for (let e = lo; e <= hi; e++) {
    const v = Math.pow(10, e);
    if (v >= p.yDom[0] * 0.999 && v <= p.yDom[1] * 1.001) majorY.push(v);
    for (let k = 2; k <= 9; k++) {
      const m = k * v;
      if (m > p.yDom[0] && m < p.yDom[1]) minorY.push(m);
    }
  }

  const grid = g.append("g").attr("fill", "none");
  // minor grid
  grid.selectAll(".my").data(minorY).join("line")
      .attr("x1", p.left).attr("x2", p.right)
      .attr("y1", d => y(d)).attr("y2", d => y(d))
      .attr("stroke", "#c4c4c4").attr("stroke-width", 0.6).attr("stroke-dasharray", "1,1.6");
  if (p.xMinor) {
    const minorX = d3.range(0, p.xMax, p.xMinor).filter(v => !p.xTicks.includes(v));
    grid.selectAll(".mx").data(minorX).join("line")
        .attr("x1", d => x(d)).attr("x2", d => x(d))
        .attr("y1", p.top).attr("y2", p.bottom)
        .attr("stroke", "#c4c4c4").attr("stroke-width", 0.6).attr("stroke-dasharray", "1,1.6");
  }
  // major grid
  grid.selectAll(".gy").data(majorY).join("line")
      .attr("x1", p.left).attr("x2", p.right)
      .attr("y1", d => y(d)).attr("y2", d => y(d))
      .attr("stroke", "#dcdcdc").attr("stroke-width", 0.9);
  grid.selectAll(".gx").data(p.xTicks).join("line")
      .attr("x1", d => x(d)).attr("x2", d => x(d))
      .attr("y1", p.top).attr("y2", p.bottom)
      .attr("stroke", "#dcdcdc").attr("stroke-width", 0.9);

  // series
  const line = d3.line().x(d => x(d[0])).y(d => y(d[1]));
  const lines = g.append("g").attr("clip-path", `url(#${clipId})`).attr("fill", "none")
      .attr("stroke-linejoin", "round");
  p.order.forEach(k => {
    lines.append("path")
        .datum(p.series[k])
        .attr("d", line)
        .attr("stroke", colors[k])
        .attr("stroke-width", p.width[k])
        .attr("stroke-dasharray", k === "batch" ? "2,2" : null);
  });

  // box and inward ticks
  const ax = g.append("g").attr("stroke", "#262626").attr("stroke-width", 0.7);
  ax.append("rect")
      .attr("x", p.left).attr("y", p.top)
      .attr("width", p.right - p.left).attr("height", p.bottom - p.top)
      .attr("fill", "none");
  [[majorY, 4], [minorY, 2]].forEach(([vals, len]) => {
    ax.selectAll(null).data(vals).join("path")
        .attr("d", d => `M${p.left},${y(d)}h${len}M${p.right},${y(d)}h${-len}`);
  });
  ax.selectAll(null).data(p.xTicks).join("path")
      .attr("d", d => `M${x(d)},${p.bottom}v-4M${x(d)},${p.top}v4`);

  // tick labels
  const tl = g.append("g").attr("font-size", 9.5);
  tl.selectAll(null).data(p.xTicks).join("text")
      .attr("x", d => x(d)).attr("y", p.bottom + 12)
      .attr("text-anchor", "middle")
      .text((d, i) => p.xLabels ? p.xLabels[i] : d);
  const yl = tl.selectAll(null).data(majorY).join("text")
      .attr("x", p.left - 4).attr("y", d => y(d) + 4)
      .attr("text-anchor", "end");
  yl.append("tspan").text("10");
  yl.append("tspan").attr("dy", -4.5).attr("font-size", 6.5)
      .text(d => String(Math.round(Math.log10(d))));

  if (p.xExp) {
    const t = g.append("text").attr("x", p.right).attr("y", p.bottom + 29)
        .attr("text-anchor", "end").attr("font-size", 9.5);
    t.append("tspan").text("×10");
    t.append("tspan").attr("dy", -4.5).attr("font-size", 6.5).text("4");
  }

  // axis labels
  g.append("text")
      .attr("x", (p.left + p.right) / 2).attr("y", p.xLabelY)
      .attr("text-anchor", "middle").attr("font-size", 10)
      .text("Iteration (time)");
  g.append("text")
      .attr("transform", `translate(${p.yLabelX},${(p.top + p.bottom) / 2}) rotate(-90)`)
      .attr("text-anchor", "middle").attr("font-size", 10)
      .text(p.yLabel);

  // legend
  const L = p.legend;
  const keys = Object.keys(p.series);
  const lg = g.append("g");
  lg.append("rect")
      .attr("x", L.x).attr("y", L.y).attr("width", L.w).attr("height", L.h)
      .attr("fill", "#fff").attr("stroke", "#262626").attr("stroke-width", 0.7);
  keys.forEach((k, i) => {
    const cy = L.y + L.h * (i + 0.5) / keys.length;
    lg.append("line")
        .attr("x1", L.x + 3).attr("x2", L.x + 29)
        .attr("y1", cy).attr("y2", cy)
        .attr("stroke", colors[k]).attr("stroke-width", Math.max(1.5, p.width[k]))
        .attr("stroke-dasharray", k === "batch" ? "2,2" : null);
    lg.append("text")
        .attr("x", L.x + 32).attr("y", cy + 3)
        .attr("font-size", 8.5).attr("fill", "#000")
        .text(names[k]);
  });
});

// captions: grow the font a little, then widen the spaces (like math spacing) to hit the measured width
function writeCaption(c, fs) {
  const t = svg.append("text").attr("class", "cap")
      .attr("x", c.x).attr("y", c.y).attr("font-size", fs);
  let shift = 0;
  c.parts.forEach(([s, k]) => {
    const ts = t.append("tspan").text(s);
    const want = k === "sup" ? -0.42 * fs : k === "sub" ? 0.25 * fs : 0;
    if (want !== shift) { ts.attr("dy", want - shift); shift = want; }
    if (k === "b") ts.attr("font-weight", "bold");
    if (k === "i") ts.attr("font-style", "italic");
    if (k === "sup" || k === "sub") ts.attr("font-size", 0.7 * fs);
  });
  return t;
}

captions.forEach(c => {
  let t = writeCaption(c, 17);
  const natural = t.node().getComputedTextLength();
  const fs = Math.max(16, Math.min(18, 17 * c.w / natural));
  t.remove();
  t = writeCaption(c, fs);
  const spaces = c.parts.map(d => d[0]).join("").split(" ").length - 1;
  const extra = (c.w - t.node().getComputedTextLength()) / Math.max(1, spaces);
  t.attr("word-spacing", Math.max(-1, Math.min(6, extra)));
});

</script>
